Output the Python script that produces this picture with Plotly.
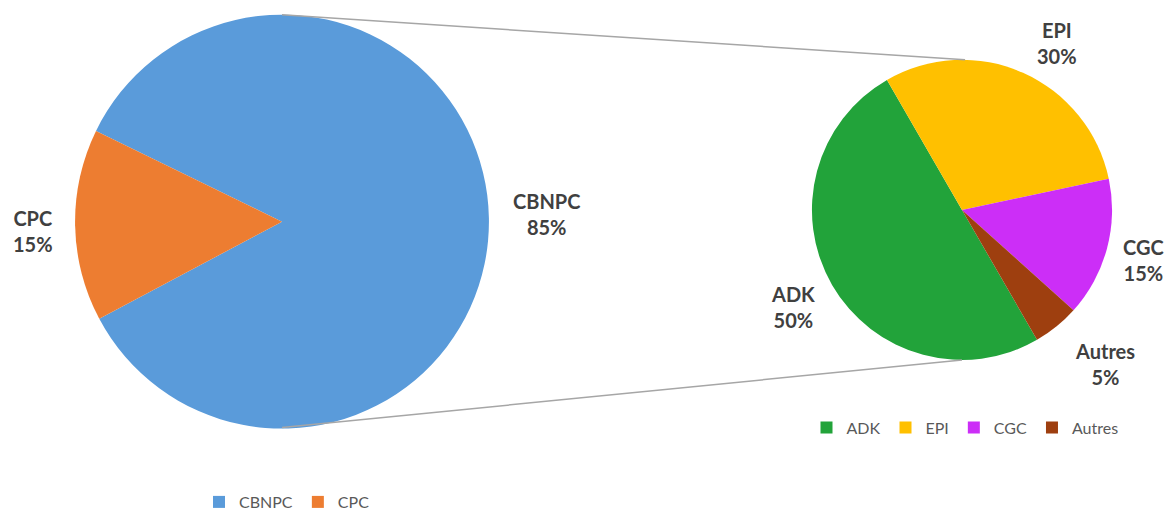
import plotly.graph_objects as go

W, H = 1176, 519

# ---- data ----
main_labels = ["CBNPC", "CPC"]
main_values = [85, 15]
sub_labels = ["ADK", "EPI", "CGC", "Autres"]
sub_values = [50, 30, 15, 5]

main_colors = ["#5A9BDA", "#ED7D31"]
sub_colors = ["#22A33A", "#FFC000", "#CC2EF7", "#9E3F0F"]

def px(x):
    return x / W

def py(y):
    return 1 - y / H

# pie geometry in pixels (layout)
L_CX, L_CY, L_R = 282, 226, 211
R_CX, R_CY, R_R = 962, 214, 153

fig = go.Figure()
fig.add_trace(go.Pie(
    labels=main_labels, values=main_values, sort=False, direction="clockwise",
    rotation=296, marker=dict(colors=main_colors), textinfo="none",
    domain=dict(x=[px(L_CX - L_R), px(L_CX + L_R)], y=[py(L_CY + L_R), py(L_CY - L_R)]),
    legend="legend", hoverinfo="label+percent",
))
fig.add_trace(go.Pie(
    labels=sub_labels, values=sub_values, sort=False, direction="clockwise",
    rotation=150, marker=dict(colors=sub_colors), textinfo="none",
    domain=dict(x=[px(R_CX - R_R), px(R_CX + R_R)], y=[py(R_CY + R_R), py(R_CY - R_R)]),
    legend="legend2", hoverinfo="label+percent",
))

# connector lines between the pies
line_style = dict(color="#A6A6A6", width=1.5)
fig.add_shape(type="line", xref="paper", yref="paper",
              x0=px(L_CX), y0=py(L_CY - L_R), x1=px(R_CX + 3), y1=py(R_CY - R_R), line=line_style)
fig.add_shape(type="line", xref="paper", yref="paper",
              x0=px(L_CX), y0=py(L_CY + L_R - 1), x1=px(R_CX), y1=py(R_CY + R_R), line=line_style)

# data labels
label_pos = {
    "CBNPC": (546, 218), "CPC": (33, 236),
    "ADK": (793, 313), "EPI": (1057, 44), "CGC": (1143, 265), "Autres": (1105, 371),
}
all_labels = main_labels + sub_labels
all_values = main_values + sub_values
for lab, val in zip(all_labels, all_values):
    x, y = label_pos[lab]
    fig.add_annotation(x=px(x), y=py(y), xref="paper", yref="paper",
                       text=f"<b>{lab}<br>{val}%</b>", showarrow=False,
                       font=dict(family="Lato", size=20, color="#404040"),
                       align="center", xanchor="center", yanchor="middle")

fig.update_layout(
    width=W, height=H, margin=dict(l=0, r=0, t=0, b=0),
    paper_bgcolor="white", plot_bgcolor="white",
    font=dict(family="Lato", color="#595959"),
    legend=dict(orientation="h", x=px(287), y=py(512), xanchor="center", yanchor="middle",
                font=dict(size=16, color="#595959"), itemwidth=30, traceorder="normal"),
    legend2=dict(orientation="h", x=px(965), y=py(436), xanchor="center", yanchor="middle",
                 font=dict(size=16, color="#595959"), itemwidth=30, traceorder="normal"),
)

fig.write_html("out.html", config={"displayModeBar": False},
               post_script="document.body.style.margin='0';")
